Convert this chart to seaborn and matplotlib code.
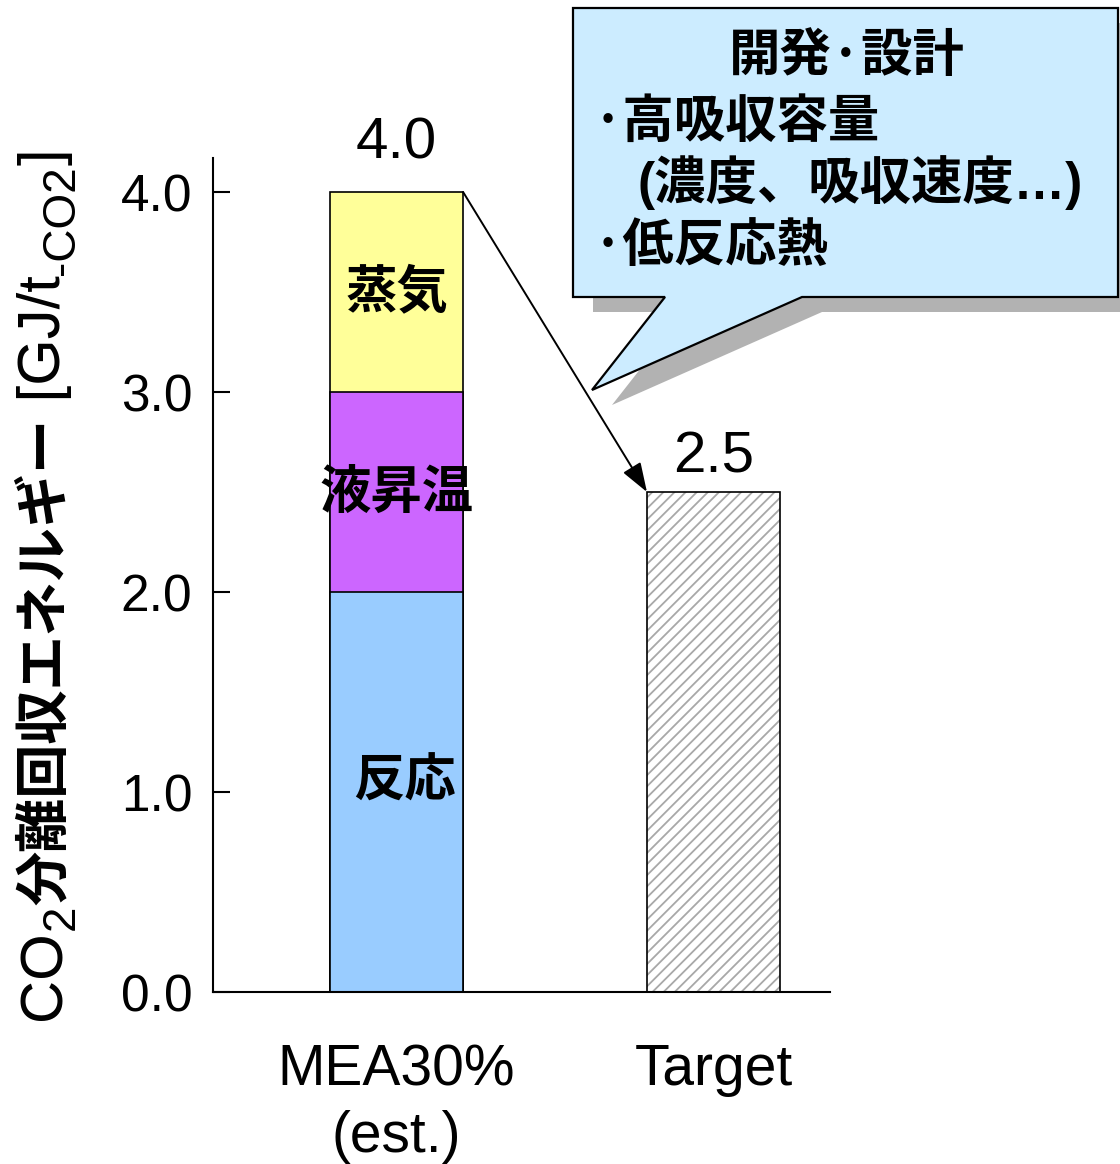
import numpy as np
import matplotlib
matplotlib.use("Agg")
import matplotlib.pyplot as plt
from matplotlib import font_manager as fm
from matplotlib.patches import Polygon
import seaborn as sns

# ---- data ----
categories = ["MEA30%\n(est.)", "Target"]
mea_components = ["反応", "液昇温", "蒸気"]
mea_values = [2.0, 1.0, 1.0]
target_values = [2.5]
y_ticks = [0.0, 1.0, 2.0, 3.0, 4.0]
callout_title = "開発·設計"
callout_lines = ["·高吸収容量", "(濃度、吸収速度…)", "·低反応熱"]

# ---- style ----
component_colors = ["#99CCFF", "#CC66FF", "#FFFF99"]
W, H = 1120, 1164


def installed(name):
    try:
        fm.findfont(fm.FontProperties(family=name), fallback_to_default=False)
        return True
    except Exception:
        return False


sns.set_style("ticks")
LATIN = "Liberation Sans"
CJK = "Noto Sans CJK JP"
HAS_NARROW = installed("Liberation Sans Narrow")
NARROW = "Liberation Sans Narrow" if HAS_NARROW else LATIN
plt.rcParams["font.family"] = [LATIN, CJK, "DejaVu Sans"]
plt.rcParams["hatch.linewidth"] = 1.3
for key in ("text.color", "axes.labelcolor", "xtick.color", "ytick.color",
            "axes.edgecolor"):
    plt.rcParams[key] = "black"

fig = plt.figure(figsize=(W / 100, H / 100), dpi=100)
ax = fig.add_axes([213 / W, 1 - 992 / H, 617 / W, 834 / H])

BAR_W = 0.42
mea_tops = np.cumsum(mea_values)
mea_bottoms = mea_tops - np.array(mea_values)

# stacked MEA bar: draw the tallest cumulative bar first, shorter ones on top
for top, color in zip(mea_tops[::-1], component_colors[::-1]):
    sns.barplot(x=[categories[0]], y=[top], order=categories, color=color,
                saturation=1, width=BAR_W, edgecolor="black", linewidth=1.2,
                errorbar=None, ax=ax)

# target bar: grey hatching with a black outline
sns.barplot(x=[categories[1]], y=target_values, order=categories, color="white",
            saturation=1, width=BAR_W, edgecolor="#a8a8a8", linewidth=0,
            hatch="///", errorbar=None, ax=ax)
sns.barplot(x=[categories[1]], y=target_values, order=categories, color="black",
            fill=False, width=BAR_W, linewidth=1.2, errorbar=None, ax=ax)

ax.set_xlim(-0.579, 1.3675)
ax.set_ylim(0, 4.17)

# segment names inside the stacked bar
label_nudges = [(6, 8), (0, 0), (0, 0)]
for name, b, v, (nx, ny) in zip(mea_components, mea_bottoms, mea_values, label_nudges):
    ax.annotate(name, xy=(0, b + v / 2), xytext=(nx, ny), textcoords="offset points",
                ha="center", va="center", fontsize=37, family=[CJK], weight="bold")

# totals above the bars
totals = [mea_tops[-1], target_values[0]]
label_offsets = [24, 14]
for x, v, off in zip([0, 1], totals, label_offsets):
    ax.annotate(f"{v:.1f}", xy=(x, v), xytext=(0, off), textcoords="offset points",
                ha="center", va="baseline", fontsize=42, family=[LATIN])

# arrow from the MEA total to the target
ax.annotate("", xy=(1 - BAR_W / 2, target_values[0]),
            xytext=(0 + BAR_W / 2, mea_tops[-1]),
            arrowprops=dict(arrowstyle="-|>,head_length=1.0,head_width=0.35",
                            mutation_scale=18, lw=1.4, color="black",
                            shrinkA=0, shrinkB=0))

# axes
ax.set_yticks(y_ticks)
ax.set_yticklabels([f"{t:.1f}" for t in y_ticks])
ax.tick_params(axis="y", direction="in", length=12, width=1.5, pad=15,
               labelsize=37, color="black", labelcolor="black")
xt_size = 48 if HAS_NARROW else 41
ax.tick_params(axis="x", length=0, pad=37, labelsize=xt_size, labelcolor="black")
for lab in ax.get_xticklabels():
    lab.set_family([NARROW])
    lab.set_linespacing(1.3)
ax.set_xlabel("")
ax.set_ylabel("")
sns.despine(ax=ax)
for side in ("left", "bottom"):
    ax.spines[side].set_linewidth(1.5)
    ax.spines[side].set_color("black")

# y-axis title built from pieces so the subscripts sit lower
lab_size = 45 if HAS_NARROW else 43
sub_size = 33
base = fig.text(45 / W, 1 - 1020 / H, "CO", rotation=90, ha="center", va="bottom",
                fontsize=lab_size, family=[NARROW])
pieces = [
    ("2", NARROW, sub_size, 12, "normal"),
    ("分離回収エネルギー", CJK, 39, 0, "bold"),
    (" [GJ/t", NARROW, lab_size, 0, "normal"),
    ("-CO2", NARROW, sub_size, 12, "normal"),
    ("]", NARROW, lab_size, 0, "normal"),
]
prev = base
for text, fam, size, dx, wt in pieces:
    prev = ax.annotate(text, xy=(0.5, 1), xycoords=(base, prev), xytext=(dx, 0),
                       textcoords="offset points", rotation=90, ha="center",
                       va="bottom", fontsize=size, family=[fam], weight=wt,
                       annotation_clip=False)


# speech-bubble callout
def fpx(x, y):
    return (x / W, 1 - y / H)


bubble = [(573, 8), (1118, 8), (1118, 297), (802, 297), (592, 390), (665, 297), (573, 297)]
shadow = [(x + 20, y + 15) for x, y in bubble]
fig.add_artist(Polygon([fpx(*p) for p in shadow], closed=True, transform=fig.transFigure,
                       facecolor="#b2b2b2", edgecolor="none", zorder=2))
fig.add_artist(Polygon([fpx(*p) for p in bubble], closed=True, transform=fig.transFigure,
                       facecolor="#CCECFF", edgecolor="black", lw=1.6, zorder=3))
fig.text(847 / W, 1 - 55 / H, callout_title, ha="center", va="center", fontsize=37,
         family=[CJK], weight="bold", zorder=4)
line_fonts = [[CJK], [LATIN, CJK], [CJK]]
for (x, y), line, fams in zip([(593, 121), (638, 183), (593, 246)], callout_lines, line_fonts):
    fig.text(x / W, 1 - y / H, line, ha="left", va="center", fontsize=37,
             family=fams, weight="bold", zorder=4)

fig.savefig("out.png", dpi=100)
